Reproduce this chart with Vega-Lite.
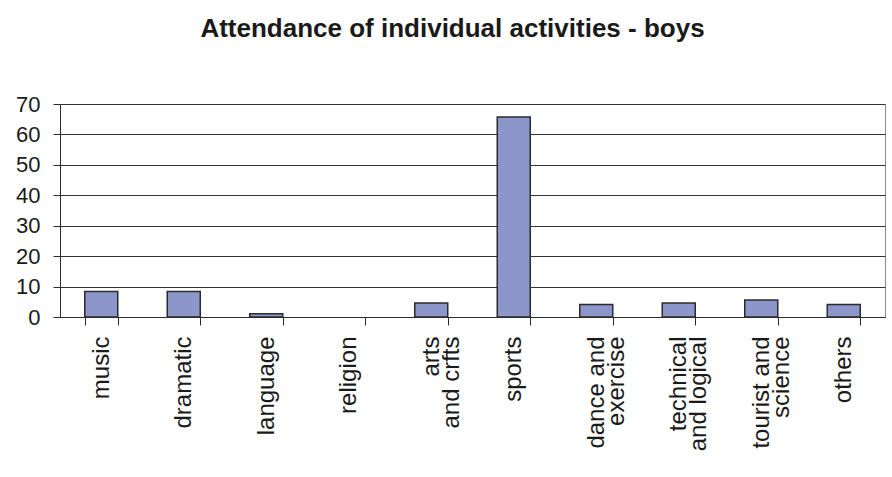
{
  "$schema": "https://vega.github.io/schema/vega-lite/v6.json",
  "autosize": "none",
  "width": 825,
  "height": 213,
  "padding": {"left": 60, "top": 104, "right": 7, "bottom": 160},
  "background": "white",
  "title": {
    "text": "Attendance of individual activities - boys",
    "font": "Liberation Sans",
    "fontSize": 26,
    "fontWeight": "bold",
    "color": "#1a1a1a",
    "anchor": "middle",
    "dx": -20,
    "baseline": "alphabetic",
    "offset": 30
  },
  "data": {
    "values": [
      {"activity": "music", "attendance": 8.4},
      {"activity": "dramatic", "attendance": 8.4},
      {"activity": "language", "attendance": 1.1},
      {"activity": "religion", "attendance": 0},
      {"activity": "arts\nand crfts", "attendance": 4.6},
      {"activity": "sports", "attendance": 65.7},
      {"activity": "dance and\nexercise", "attendance": 4.1},
      {"activity": "technical\nand logical", "attendance": 4.6},
      {"activity": "tourist and\nscience", "attendance": 5.6},
      {"activity": "others", "attendance": 4.1}
    ]
  },
  "mark": {
    "type": "bar",
    "fill": "#8C96CB",
    "stroke": "#2b2b2b",
    "strokeWidth": 1.5
  },
  "encoding": {
    "x": {
      "field": "activity",
      "type": "nominal",
      "sort": null,
      "scale": {"paddingInner": 0.6, "paddingOuter": 0.3},
      "axis": {
        "title": null,
        "labelExpr": "split(datum.label, '\\n')",
        "labelAngle": -90,
        "labelAlign": "right",
        "labelBaseline": "middle",
        "labelFont": "Liberation Sans",
        "labelFontSize": 24,
        "labelLineHeight": 20,
        "labelColor": "#1a1a1a",
        "labelPadding": 11,
        "labelLimit": 300,
        "tickBand": "extent",
        "tickSize": 8,
        "tickColor": "#2b2b2b",
        "domainColor": "#2b2b2b",
        "grid": false
      }
    },
    "y": {
      "field": "attendance",
      "type": "quantitative",
      "scale": {"domain": [0, 70], "nice": false},
      "axis": {
        "title": null,
        "values": [0, 10, 20, 30, 40, 50, 60, 70],
        "labelFont": "Liberation Sans",
        "labelFontSize": 22,
        "labelColor": "#1a1a1a",
        "labelPadding": 13,
        "tickSize": 7,
        "tickColor": "#2b2b2b",
        "domainColor": "#2b2b2b",
        "grid": true,
        "gridColor": "#333333",
        "gridOpacity": 1
      }
    },
    "strokeOpacity": {
      "condition": {"test": "datum.attendance == 0", "value": 0},
      "value": 1
    }
  },
  "config": {
    "view": {"stroke": "#8a8a8a", "strokeWidth": 1}
  }
}
